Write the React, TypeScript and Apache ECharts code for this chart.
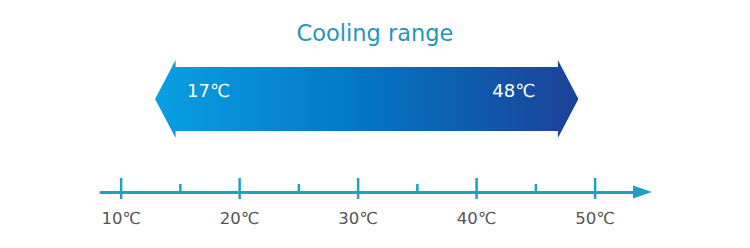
import React, { useEffect, useRef } from "react";
import * as echarts from "echarts";

const titleText = "Cooling range";
const rangeValues = [17, 48];
const majorTicks = [10, 20, 30, 40, 50];
const minorTicks = [15, 25, 35, 45];
const unit = "℃";

const TEAL = "#1aa2c2";

export default function App() {
  const ref = useRef<HTMLDivElement>(null);
  useEffect(() => {
    if (!ref.current) return;
    const chart = echarts.init(ref.current, null, { renderer: "svg" });
    const font = "'DejaVu Sans', sans-serif";
    chart.setOption({
      animation: false,
      title: {
        text: titleText,
        left: "center",
        top: 16,
        textStyle: { fontSize: 22.5, fontWeight: "normal", color: "#2398b6", fontFamily: font },
      },
      grid: { left: 101, right: 107.5, top: 0, bottom: 56 },
      xAxis: {
        type: "value",
        min: 8.3,
        max: 54,
        splitLine: { show: false },
        axisLine: {
          show: true,
          symbol: ["none", "triangle"],
          symbolSize: [13, 19],
          lineStyle: { color: TEAL, width: 3 },
        },
        axisTick: { show: false },
        axisLabel: {
          customValues: majorTicks,
          formatter: (v: number) => v + unit,
          color: "#555",
          fontSize: 16.5,
          margin: 18,
          fontFamily: font,
        },
      },
      yAxis: { type: "value", min: 0, max: 1, show: false },
      series: [
        {
          type: "custom",
          data: majorTicks.map((v) => [v, 1]).concat(minorTicks.map((v) => [v, 0])),
          renderItem: (params: any, api: any) => {
            const x = api.coord([api.value(0), 0])[0];
            const major = api.value(1) === 1;
            const yLine = params.coordSys.y + params.coordSys.height;
            return {
              type: "line",
              shape: { x1: x, y1: yLine - (major ? 14 : 8), x2: x, y2: yLine + (major ? 7 : 0) },
              style: { stroke: TEAL, lineWidth: 2.5 },
            };
          },
          silent: true,
        },
        {
          type: "custom",
          data: [rangeValues],
          renderItem: (params: any, api: any) => {
            const x0 = api.coord([api.value(0), 0])[0] - 49;
            const x1 = api.coord([api.value(1), 0])[0] + 7;
            const cy = 99;
            const headLen = 20.5;
            const halfHead = 39;
            const halfBody = 32;
            const pts = [
              [x0, cy],
              [x0 + headLen, cy - halfHead],
              [x0 + headLen, cy - halfBody],
              [x1 - headLen, cy - halfBody],
              [x1 - headLen, cy - halfHead],
              [x1, cy],
              [x1 - headLen, cy + halfHead],
              [x1 - headLen, cy + halfBody],
              [x0 + headLen, cy + halfBody],
              [x0 + headLen, cy + halfHead],
            ];
            return {
              type: "group",
              children: [
                {
                  type: "polygon",
                  shape: { points: pts },
                  style: {
                    fill: new echarts.graphic.LinearGradient(0, 0, 1, 0, [
                      { offset: 0, color: "#0a9fe2" },
                      { offset: 0.5, color: "#0474c3" },
                      { offset: 1, color: "#1c4197" },
                    ]),
                  },
                },
                {
                  type: "text",
                  x: x0 + 32,
                  y: cy - 9,
                  style: {
                    text: api.value(0) + unit,
                    fill: "#fff",
                    fontSize: 18,
                    fontFamily: font,
                    align: "left",
                    verticalAlign: "middle",
                  },
                },
                {
                  type: "text",
                  x: x1 - 43,
                  y: cy - 9,
                  style: {
                    text: api.value(1) + unit,
                    fill: "#fff",
                    fontSize: 18,
                    fontFamily: font,
                    align: "right",
                    verticalAlign: "middle",
                  },
                },
              ],
            };
          },
          silent: true,
        },
      ],
    });
    return () => chart.dispose();
  }, []);
  return (
    <div
      ref={ref}
      style={{ position: "absolute", left: 0, top: 0, width: 750, height: 248 }}
    />
  );
}
